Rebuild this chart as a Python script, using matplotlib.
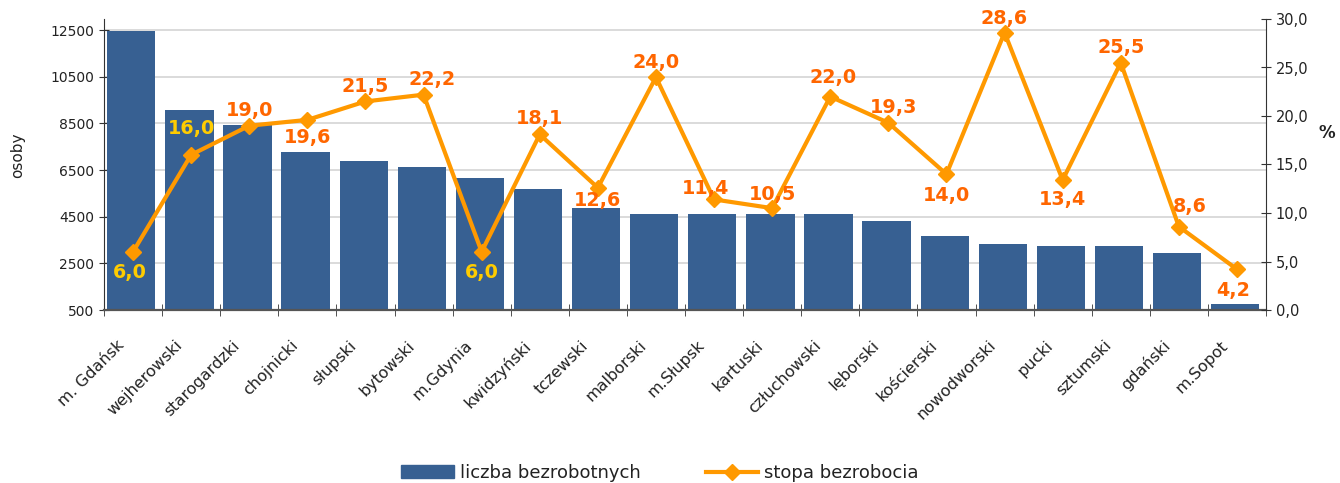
import matplotlib
matplotlib.use("Agg")
import matplotlib.pyplot as plt
import numpy as np
from matplotlib.patches import Patch
from matplotlib.lines import Line2D

# ---- data ----
categories = ["m. Gdańsk", "wejherowski", "starogardzki", "chojnicki", "słupski",
              "bytowski", "m.Gdynia", "kwidzyński", "tczewski", "malborski",
              "m.Słupsk", "kartuski", "człuchowski", "lęborski", "kościerski",
              "nowodworski", "pucki", "sztumski", "gdański", "m.Sopot"]
unemployed = [12450, 9070, 8420, 7270, 6880, 6630, 6150, 5680, 4870, 4610,
              4610, 4610, 4610, 4310, 3670, 3330, 3240, 3240, 2940, 760]
rate = [6.0, 16.0, 19.0, 19.6, 21.5, 22.2, 6.0, 18.1, 12.6, 24.0,
        11.4, 10.5, 22.0, 19.3, 14.0, 28.6, 13.4, 25.5, 8.6, 4.2]
left_ticks = [500, 2500, 4500, 6500, 8500, 10500, 12500]
right_ticks = [0, 5, 10, 15, 20, 25, 30]

# ---- label placement (pixel offsets) and colours ----
label_offsets = [(-3, -21), (0, 26), (0, 15), (0, -18), (0, 15), (9, 15),
                 (0, -21), (0, 16), (0, -13), (0, 15), (-9, 11), (0, 14),
                 (3, 19), (5, 15), (0, -21), (0, 14), (0, -19), (0, 15),
                 (11, 20), (-4, -21)]
gold_labels = {0, 1, 6}

bar_color = "#376092"
line_color = "#FF9900"
lab_orange = "#FF6600"
lab_gold = "#FFCC00"

W, H = 1340, 483
fig = plt.figure(figsize=(W / 100, H / 100), dpi=100)
ax = fig.add_axes([104 / W, 1 - 310 / H, (1266 - 104) / W, (310 - 19) / H])

x = np.arange(len(categories))
base = left_ticks[0]
ax.bar(x - 0.03, np.array(unemployed) - base, bottom=base, width=0.83,
       color=bar_color, zorder=2)
ax.set_xlim(-0.5, len(categories) - 0.5)
ax.set_ylim(500, 12980)
ax.set_yticks(left_ticks)
ax.set_yticklabels([str(v) for v in left_ticks], fontsize=10, color="#222222")
ax.grid(axis="y", color="#D4D4D4", linewidth=1.2, zorder=0)
ax.set_axisbelow(True)

# category labels: anchored slightly left of each bar centre
label_shift = 0.29
ax.set_xticks(x - label_shift)
ax.set_xticklabels(categories, rotation=45, ha="right", va="top",
                   rotation_mode="anchor", fontsize=11.5, color="#222222")
ax.tick_params(axis="x", which="major", length=0, pad=20)
ax.set_xticks(np.arange(-0.5, len(categories)), minor=True)
ax.tick_params(axis="x", which="minor", length=8, direction="inout",
               color="#333333")
ax.tick_params(axis="y", length=7, direction="inout", color="#333333")

for s in ["top", "right"]:
    ax.spines[s].set_visible(False)
ax.spines["left"].set_color("#333333")
ax.spines["bottom"].set_color("#555555")
ax.spines["bottom"].set_linewidth(1.6)

ax2 = ax.twinx()
ax2.plot(x, rate, color=line_color, linewidth=3, marker="D", markersize=8.5,
         zorder=5)
ax2.set_ylim(0, 30)
ax2.set_yticks(right_ticks)
ax2.set_yticklabels([f"{v:.1f}".replace(".", ",") for v in right_ticks],
                    fontsize=10.5, color="#222222")
ax2.tick_params(axis="y", length=7, direction="inout", color="#333333")
for s in ["top", "left", "bottom"]:
    ax2.spines[s].set_visible(False)
ax2.spines["right"].set_color("#333333")

for i, v in enumerate(rate):
    dx, dy = label_offsets[i]
    ax2.annotate(f"{v:.1f}".replace(".", ","), (x[i], v),
                 xytext=(dx, dy), textcoords="offset pixels",
                 ha="center", va="center", fontsize=13.8, fontweight="bold",
                 color=lab_gold if i in gold_labels else lab_orange, zorder=6)

fig.text(18 / W, 1 - 155 / H, "osoby", rotation=90, ha="center", va="center",
         fontsize=11, color="#222222")
fig.text(1327 / W, 1 - 133 / H, "%", ha="center", va="center",
         fontsize=12, fontweight="bold", color="#222222")

handles = [Patch(color=bar_color),
           Line2D([], [], color=line_color, linewidth=3, marker="D",
                  markersize=8.5)]
fig.legend(handles, ["liczba bezrobotnych", "stopa bezrobocia"],
           loc="center", bbox_to_anchor=(660 / W, 1 - 473 / H), ncol=2,
           frameon=False, fontsize=13, columnspacing=3.6, handlelength=2.9,
           handletextpad=0.35, labelcolor="#222222")

fig.savefig("out.png", dpi=100)
